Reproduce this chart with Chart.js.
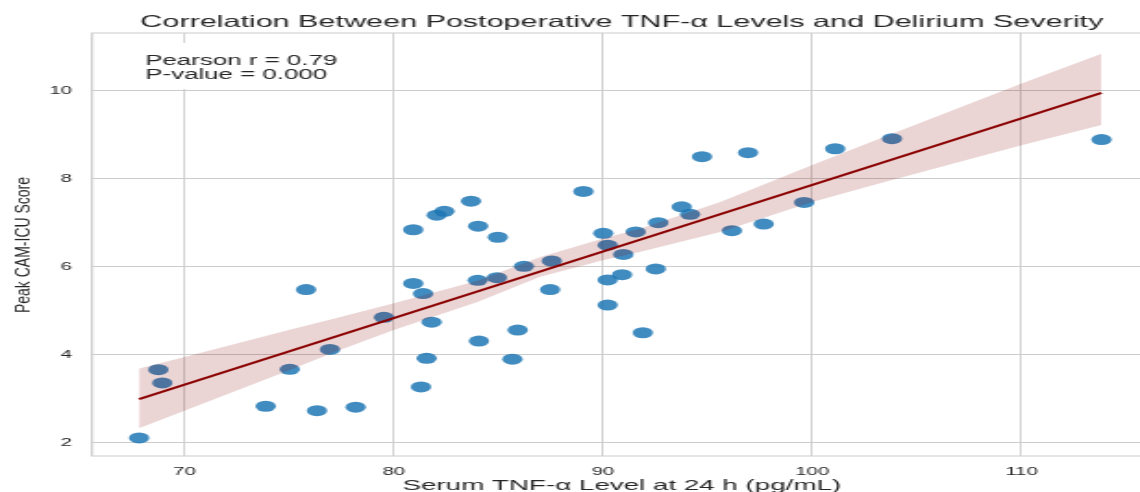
<!DOCTYPE html>
<html>
<head>
<meta charset="utf-8">
<title>TNF-α and delirium severity</title>
<script src="https://cdn.jsdelivr.net/npm/chart.js"></script>
<style>
  html, body { margin: 0; padding: 0; background: #fff; }
  /* the reference figure is stretched sideways, so the canvas is drawn narrow and widened by CSS */
  #chart { display: block; width: 1140px !important; height: 492px !important; }
</style>
</head>
<body>
<canvas id="chart" width="616" height="492" style="width:1140px;height:492px"></canvas>
<script>
// serum TNF-a at 24 h (pg/mL) and peak CAM-ICU score, one entry per patient
const tnf = [67.83, 68.75, 68.94, 73.88, 75.03, 75.81, 76.33, 76.95, 78.18, 79.53,
             80.93, 80.93, 81.40, 81.30, 81.57, 81.81, 82.05, 82.42, 83.69, 84.03,
             84.01, 84.07, 84.93, 84.97, 85.67, 85.92, 86.22, 87.55, 87.47, 89.06,
             90.01, 90.22, 90.22, 90.22, 90.91, 90.97, 91.56, 91.90, 92.52, 92.64,
             93.76, 94.16, 94.73, 96.16, 96.93, 97.68, 99.61, 101.09, 103.81, 113.82];
const camIcu = [2.11, 3.66, 3.36, 2.83, 3.67, 5.48, 2.73, 4.12, 2.81, 4.85,
                6.84, 5.62, 5.39, 3.27, 3.92, 4.74, 7.17, 7.26, 7.49, 6.92,
                5.69, 4.31, 5.75, 6.67, 3.90, 4.56, 6.01, 6.13, 5.48, 7.71,
                6.76, 6.49, 5.13, 5.70, 5.82, 6.28, 6.79, 4.50, 5.95, 7.00,
                7.36, 7.19, 8.50, 6.82, 8.59, 6.97, 7.46, 8.68, 8.91, 8.89];

// regression line ends and the confidence band
const fitX = [67.83, 113.82];
const fitY = [2.99, 9.95];
const bandX = [67.83, 70, 74.7, 77.4, 80, 84, 87, 90, 91.8, 95.6, 100, 103.2, 110, 113.82];
const bandUpper = [3.69, 3.95, 4.53, 4.85, 5.17, 5.68, 6.22, 6.64, 6.87, 7.47, 8.31, 8.91, 10.16, 10.84];
const bandLower = [2.33, 2.73, 3.59, 4.10, 4.56, 5.20, 5.77, 6.15, 6.34, 6.79, 7.47, 7.89, 8.76, 9.22];

const xTicks = [70, 80, 90, 100, 110];
const yTicks = [2, 4, 6, 8, 10];
const pearsonR = '0.79';
const pValue = '0.000';

const FONT = "'Liberation Sans', Arial, sans-serif";
const TEXT = '#262626';
const GRID = '#cccccc';

const pts = (xs, ys) => xs.map((x, i) => ({ x: x, y: ys[i] }));

// title, axis titles, frame and the stats box
const decor = {
  id: 'decor',
  beforeDatasetsDraw(chart) {
    const { ctx, chartArea: a } = chart;
    ctx.save();
    ctx.strokeStyle = GRID;
    ctx.lineWidth = 1.2;
    ctx.beginPath();
    ctx.moveTo(a.right + 5, a.top);
    ctx.lineTo(a.left, a.top);
    ctx.lineTo(a.left, a.bottom);
    ctx.lineTo(a.right + 5, a.bottom);
    ctx.stroke();
    ctx.fillStyle = '#fff';
    ctx.fillRect(73, 43, 114, 46);
    ctx.restore();
  },
  afterDraw(chart) {
    const ctx = chart.ctx;
    ctx.save();
    ctx.fillStyle = TEXT;
    ctx.textAlign = 'center';
    ctx.textBaseline = 'alphabetic';
    ctx.font = '16.5px ' + FONT;
    ctx.fillText('Correlation Between Postoperative TNF-\u03b1 Levels and Delirium Severity', 336, 27);
    ctx.font = '15px ' + FONT;
    ctx.fillText('Serum TNF-\u03b1 Level at 24 h (pg/mL)', 336, 490);

    ctx.save();
    ctx.translate(12.5, 245);
    ctx.rotate(-Math.PI / 2);
    ctx.scale(1, 0.8);
    ctx.textBaseline = 'middle';
    ctx.font = '14px ' + FONT;
    ctx.fillText('Peak CAM-ICU Score', 0, 0);
    ctx.restore();

    ctx.textAlign = 'left';
    ctx.font = '14px ' + FONT;
    ctx.fillText('Pearson r = ' + pearsonR, 78.4, 65);
    ctx.fillText('P-value = ' + pValue, 78.4, 79.3);
    ctx.restore();
  }
};

new Chart(document.getElementById('chart'), {
  type: 'scatter',
  data: {
    datasets: [
      {
        label: 'ci lower',
        data: pts(bandX, bandLower),
        showLine: true,
        borderColor: 'rgba(0,0,0,0)',
        borderWidth: 0,
        pointRadius: 0,
        fill: false,
        order: 3
      },
      {
        label: 'ci upper',
        data: pts(bandX, bandUpper),
        showLine: true,
        borderColor: 'rgba(0,0,0,0)',
        borderWidth: 0,
        pointRadius: 0,
        fill: 0,
        backgroundColor: 'rgba(139,0,0,0.17)',
        order: 2
      },
      {
        label: 'fit',
        data: pts(fitX, fitY),
        showLine: true,
        borderColor: '#8b0000',
        borderWidth: 2,
        pointRadius: 0,
        fill: false,
        order: 1
      },
      {
        label: 'patients',
        data: pts(tnf, camIcu),
        pointRadius: 5.5,
        pointHoverRadius: 5.5,
        backgroundColor: 'rgba(31,119,180,0.85)',
        borderWidth: 0,
        order: 4
      }
    ]
  },
  options: {
    responsive: false,
    animation: false,
    layout: { autoPadding: false, padding: { top: 33, left: 0, right: 0, bottom: 0 } },
    plugins: {
      legend: { display: false },
      tooltip: { enabled: false },
      title: { display: false }
    },
    scales: {
      x: {
        type: 'linear',
        min: 65.58,
        max: 115.66,
        afterBuildTicks: s => { s.ticks = xTicks.map(v => ({ value: v })); },
        afterFit: s => { s.height = 36; },
        grid: { color: '#d2d2d2', lineWidth: 1, drawTicks: false },
        border: { display: false },
        ticks: { padding: 9, color: TEXT, font: { family: FONT, size: 11 } }
      },
      y: {
        type: 'linear',
        min: 1.70,
        max: 11.31,
        afterBuildTicks: s => { s.ticks = yTicks.map(v => ({ value: v })); },
        afterFit: s => { s.width = 49.7; },
        grid: { color: GRID, lineWidth: 1, drawTicks: false },
        border: { display: false },
        ticks: { padding: 10.8, color: TEXT, font: { family: FONT, size: 11 } }
      }
    }
  },
  plugins: [decor]
});
</script>
</body>
</html>
